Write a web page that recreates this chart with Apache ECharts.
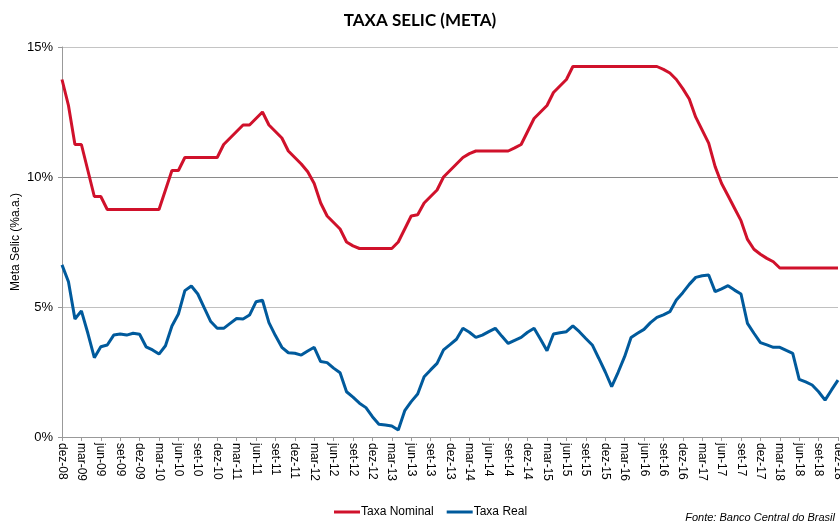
<!DOCTYPE html>
<html>
<head>
<meta charset="utf-8">
<script src="https://cdn.jsdelivr.net/npm/echarts@6/dist/echarts.min.js"></script>
<style>
  html, body { margin: 0; padding: 0; background: #fff; }
  #main { width: 840px; height: 523px; }
</style>
</head>
<body>
<div id="main"></div>
<script>
// meses de dez-08 a dez-18
const monthNames = ['jan', 'fev', 'mar', 'abr', 'mai', 'jun', 'jul', 'ago', 'set', 'out', 'nov', 'dez'];
const categories = ['dez-08'];
for (let y = 9; y <= 18; y++) {
  for (let m = 0; m < 12; m++) {
    categories.push(monthNames[m] + '-' + String(y).padStart(2, '0'));
  }
}

const taxaNominal = [
  13.75, 12.75, 11.25, 11.25, 10.25, 9.25, 9.25, 8.75, 8.75, 8.75,
  8.75, 8.75, 8.75, 8.75, 8.75, 8.75, 9.5, 10.25, 10.25, 10.75,
  10.75, 10.75, 10.75, 10.75, 10.75, 11.25, 11.5, 11.75, 12.0, 12.0,
  12.25, 12.5, 12.0, 11.75, 11.5, 11.0, 10.75, 10.5, 10.2, 9.75,
  9.0, 8.5, 8.25, 8.0, 7.5, 7.35, 7.25, 7.25, 7.25, 7.25,
  7.25, 7.25, 7.5, 8.0, 8.5, 8.55, 9.0, 9.25, 9.5, 10.0,
  10.25, 10.5, 10.75, 10.9, 11.0, 11.0, 11.0, 11.0, 11.0, 11.0,
  11.12, 11.25, 11.75, 12.25, 12.5, 12.75, 13.25, 13.5, 13.75, 14.25,
  14.25, 14.25, 14.25, 14.25, 14.25, 14.25, 14.25, 14.25, 14.25, 14.25,
  14.25, 14.25, 14.25, 14.14, 14.0, 13.75, 13.4, 13.0, 12.3, 11.8,
  11.3, 10.4, 9.75, 9.28, 8.8, 8.32, 7.6, 7.22, 7.03, 6.87,
  6.74, 6.5, 6.5, 6.5, 6.5, 6.5, 6.5, 6.5, 6.5, 6.5,
  6.5
];

const taxaReal = [
  6.62, 5.97, 4.54, 4.85, 3.99, 3.05, 3.47, 3.54, 3.92, 3.96,
  3.92, 3.99, 3.95, 3.47, 3.35, 3.19, 3.51, 4.27, 4.73, 5.63,
  5.81, 5.5, 4.97, 4.44, 4.18, 4.18, 4.37, 4.56, 4.54, 4.69,
  5.2, 5.26, 4.4, 3.9, 3.45, 3.24, 3.22, 3.15, 3.31, 3.45,
  2.9, 2.86, 2.65, 2.47, 1.74, 1.53, 1.3, 1.13, 0.78, 0.49,
  0.46, 0.42, 0.27, 1.01, 1.36, 1.65, 2.32, 2.58, 2.83, 3.35,
  3.55, 3.76, 4.18, 4.03, 3.83, 3.92, 4.05, 4.18, 3.88, 3.6,
  3.72, 3.83, 4.03, 4.18, 3.76, 3.32, 3.96, 4.01, 4.05, 4.27,
  4.05, 3.79, 3.54, 3.03, 2.51, 1.94, 2.49, 3.09, 3.83, 3.99,
  4.14, 4.4, 4.6, 4.7, 4.82, 5.27, 5.55, 5.87, 6.14, 6.2,
  6.23, 5.59, 5.7, 5.82, 5.65, 5.5, 4.37, 3.99, 3.63, 3.54,
  3.45, 3.45, 3.33, 3.22, 2.22, 2.12, 2.0, 1.74, 1.42, 1.81,
  2.19
];

const chart = echarts.init(document.getElementById('main'));
const font = 'Liberation Sans, Arial, sans-serif';

chart.setOption({
  animation: false,
  backgroundColor: '#fff',
  title: {
    text: 'TAXA SELIC (META)',
    left: 'center',
    top: 7,
    textStyle: { fontFamily: 'Lato, sans-serif', fontWeight: 'bold', fontSize: 17, color: '#000' }
  },
  legend: {
    bottom: 0,
    left: 329,
    itemWidth: 26,
    itemHeight: 3,
    itemGap: 13,
    icon: 'rect',
    textStyle: { fontFamily: font, fontSize: 12, color: '#000', padding: [0, 0, 0, -4] },
    data: ['Taxa Nominal', 'Taxa Real']
  },
  graphic: [{
    type: 'text',
    right: 5,
    bottom: 0,
    style: {
      text: 'Fonte: Banco Central do Brasil',
      font: 'italic 11px Liberation Sans, Arial, sans-serif',
      fill: '#000'
    }
  }],
  grid: { left: 62, right: 2, top: 47, bottom: 86, containLabel: false, outerBoundsMode: 'none' },
  xAxis: {
    type: 'category',
    data: categories,
    boundaryGap: false,
    axisLine: { lineStyle: { color: '#999', width: 1 } },
    axisTick: { interval: 2, length: 4, lineStyle: { color: '#999' } },
    axisLabel: {
      interval: 2,
      rotate: -90,
      margin: 6,
      fontFamily: font,
      fontSize: 12,
      color: '#000'
    }
  },
  yAxis: {
    type: 'value',
    min: 0,
    max: 15,
    interval: 5,
    name: 'Meta Selic (%a.a.)',
    nameLocation: 'middle',
    nameGap: 40,
    nameMoveOverlap: false,
    nameTextStyle: { fontFamily: font, fontSize: 12, color: '#000' },
    axisLine: { show: true, lineStyle: { color: '#999' } },
    axisTick: { show: true, length: 4, lineStyle: { color: '#999' } },
    axisLabel: { formatter: '{value}%', fontFamily: font, fontSize: 13, color: '#000', margin: 9 },
    splitLine: { lineStyle: { color: ['#999', '#c0c0c0', '#8a8a8a', '#c4c4c4'], width: 1 } }
  },
  series: [
    {
      name: 'Taxa Nominal',
      type: 'line',
      data: taxaNominal,
      showSymbol: false,
      color: '#d0112b',
      lineStyle: { width: 3, color: '#d0112b' }
    },
    {
      name: 'Taxa Real',
      type: 'line',
      data: taxaReal,
      showSymbol: false,
      color: '#005a9c',
      lineStyle: { width: 3, color: '#005a9c' }
    }
  ]
});
</script>
</body>
</html>
